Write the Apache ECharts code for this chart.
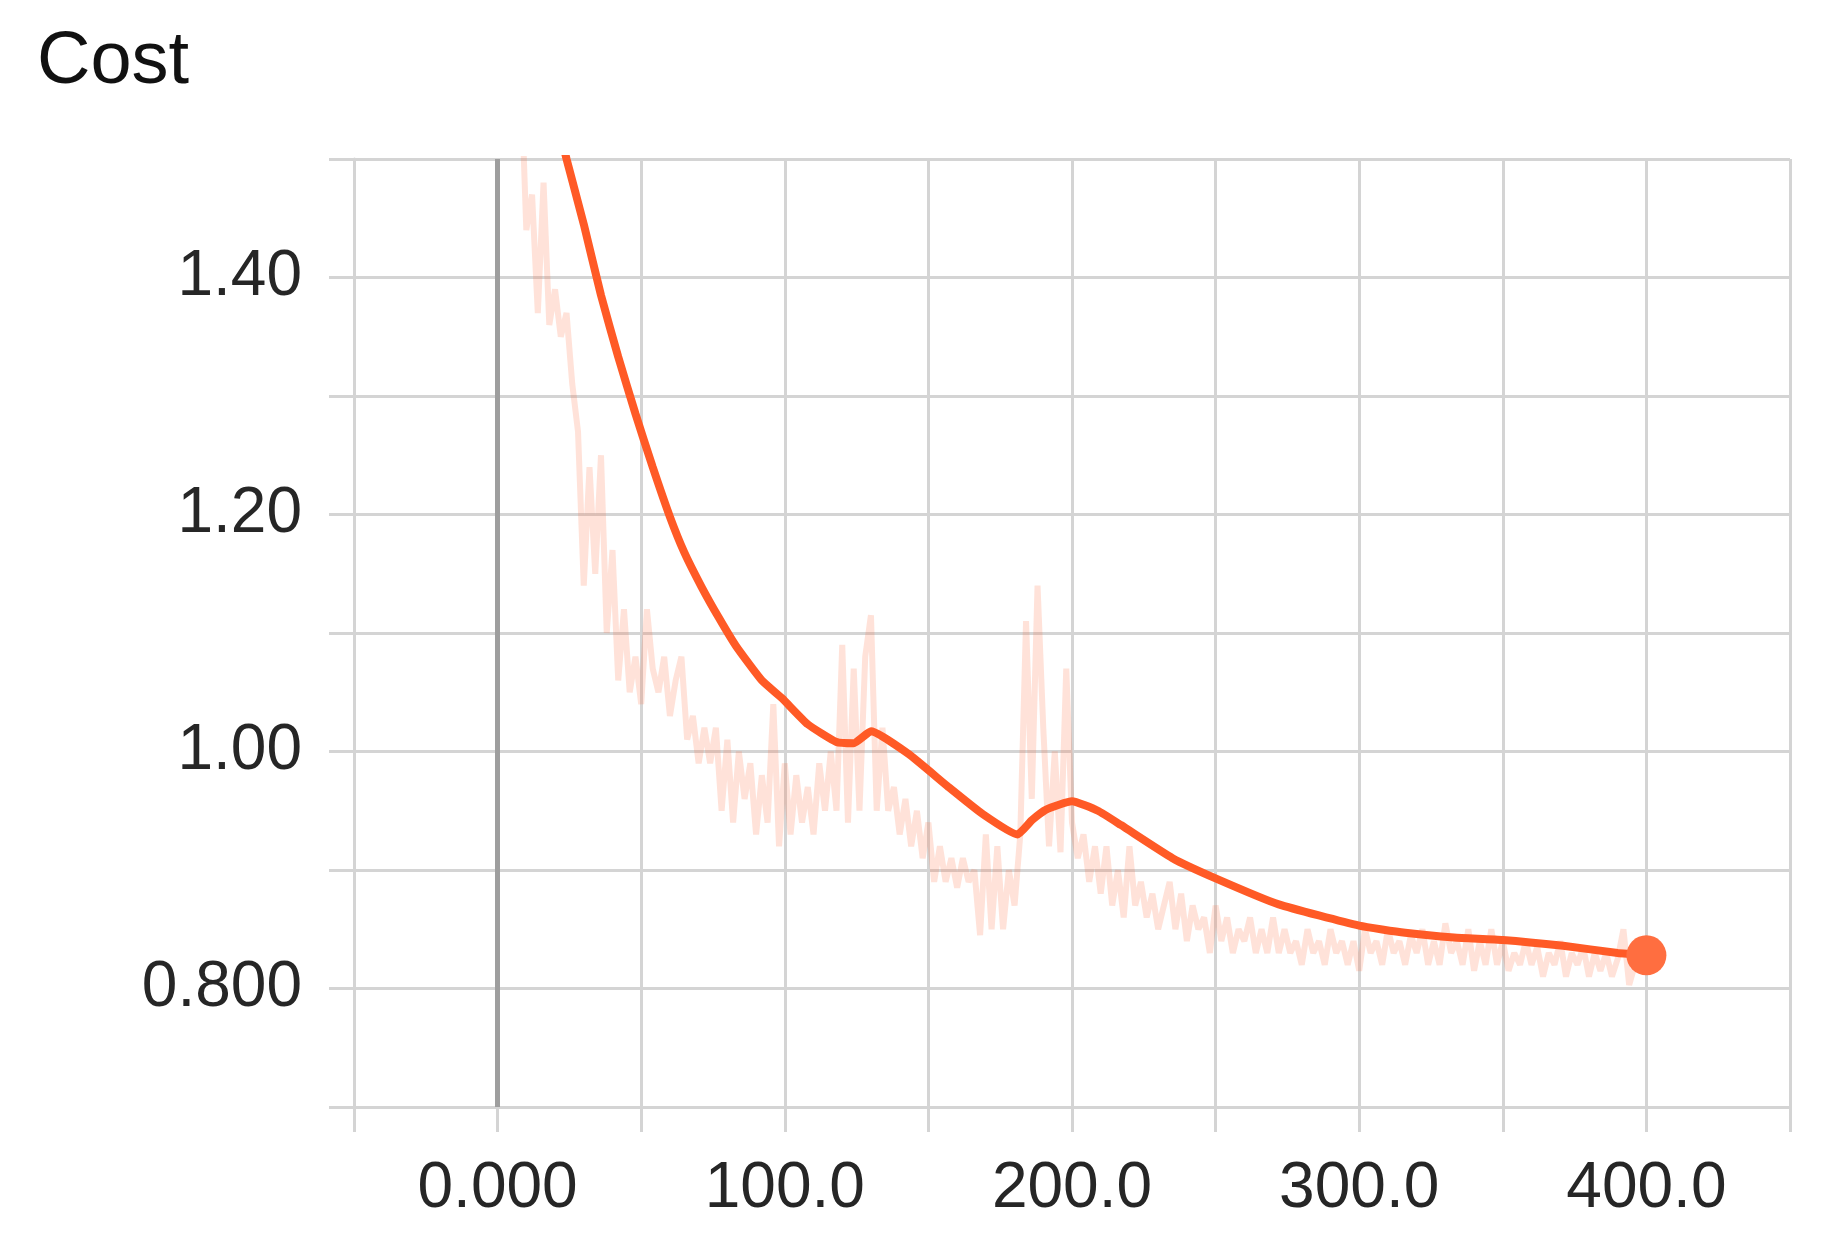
<!DOCTYPE html>
<html>
<head>
<meta charset="utf-8">
<script src="https://cdn.jsdelivr.net/npm/echarts@6/dist/echarts.min.js"></script>
<style>
html,body{margin:0;padding:0;background:#fff;}
#chart{width:1836px;height:1259px;}
</style>
</head>
<body>
<div id="chart"></div>
<script>
// Raw (unsmoothed) cost values, one per logged step
const rawSteps = [
  8,10,12,14,16,18,20,22,24,26,
  28,30,32,34,36,38,40,42,44,46,
  48,50,52,54,56,58,60,62,64,66,
  68,70,72,74,76,78,80,82,84,86,
  88,90,92,94,96,98,100,102,104,106,
  108,110,112,114,116,118,120,122,124,126,
  128,130,132,134,136,138,140,142,144,146,
  148,150,152,154,156,158,160,162,164,166,
  168,170,172,174,176,178,180,182,184,186,
  188,190,192,194,196,198,200,202,204,206,
  208,210,212,214,216,218,220,222,224,226,
  228,230,232,234,236,238,240,242,244,246,
  248,250,252,254,256,258,260,262,264,266,
  268,270,272,274,276,278,280,282,284,286,
  288,290,292,294,296,298,300,302,304,306,
  308,310,312,314,316,318,320,322,324,326,
  328,330,332,334,336,338,340,342,344,346,
  348,350,352,354,356,358,360,362,364,366,
  368,370,372,374,376,378,380,382,384,386,
  388,390,392,394,396,398,400];
const rawCost = [
  1.58,1.44,1.47,1.37,1.48,1.36,1.39,1.35,1.37,1.31,
  1.27,1.14,1.24,1.15,1.25,1.10,1.17,1.06,1.12,1.05,
  1.08,1.04,1.12,1.07,1.05,1.08,1.03,1.06,1.08,1.01,
  1.03,0.99,1.02,0.99,1.02,0.95,1.01,0.94,1.00,0.96,
  0.99,0.93,0.98,0.94,1.04,0.92,0.99,0.93,0.98,0.94,
  0.97,0.93,0.99,0.95,1.00,0.95,1.09,0.94,1.07,0.95,
  1.08,1.115,0.95,1.02,0.95,0.97,0.93,0.96,0.92,0.95,
  0.91,0.94,0.89,0.92,0.89,0.91,0.885,0.91,0.89,0.90,
  0.845,0.93,0.85,0.92,0.85,0.90,0.87,0.93,1.11,0.96,
  1.14,1.02,0.92,1.00,0.915,1.07,0.94,0.91,0.93,0.89,
  0.92,0.88,0.92,0.87,0.90,0.86,0.92,0.87,0.89,0.86,
  0.88,0.85,0.87,0.89,0.85,0.88,0.84,0.87,0.85,0.86,
  0.83,0.87,0.84,0.86,0.83,0.85,0.84,0.86,0.83,0.85,
  0.83,0.86,0.83,0.85,0.83,0.84,0.82,0.85,0.83,0.84,
  0.82,0.85,0.83,0.84,0.82,0.84,0.815,0.85,0.83,0.84,
  0.82,0.85,0.83,0.84,0.82,0.845,0.83,0.85,0.82,0.84,
  0.82,0.855,0.83,0.84,0.82,0.85,0.815,0.84,0.82,0.85,
  0.82,0.84,0.815,0.83,0.82,0.84,0.82,0.835,0.81,0.83,
  0.82,0.84,0.81,0.83,0.82,0.835,0.81,0.83,0.815,0.83,
  0.81,0.825,0.85,0.803,0.82,0.815,0.82];
// Smoothed cost values
const smoothSteps = [16,24,30,36,42,48,54,60,65,71,77,83,92,99,108,118,124,130,143,157,169,181,186,191,200,209,217,235,250,272,300,316,333,350,371,390,400];
const smoothCost = [1.58,1.50,1.445,1.385,1.333,1.285,1.240,1.198,1.168,1.139,1.113,1.089,1.060,1.045,1.023,1.008,1.007,1.017,0.998,0.970,0.947,0.930,0.942,0.951,0.958,0.950,0.938,0.910,0.893,0.871,0.853,0.847,0.843,0.841,0.836,0.830,0.828];
// Axis tick labels
const xTickLabels = {0:'0.000',100:'100.0',200:'200.0',300:'300.0',400:'400.0'};
const yTickLabels = {8:'0.800',10:'1.00',12:'1.20',14:'1.40'};
const titleText = 'Cost';

const rawData = rawSteps.map((s,i)=>[s,rawCost[i]]);
const smoothData = smoothSteps.map((s,i)=>[s,smoothCost[i]]);
const lastPoint = smoothData[smoothData.length-1];

const gridColor = '#d4d4d4';
const chart = echarts.init(document.getElementById('chart'));
chart.setOption({
  backgroundColor:'#ffffff',
  animation:false,
  title:{text:titleText,left:32,top:21,textStyle:{fontFamily:'Liberation Sans',fontSize:74,fontWeight:'normal',color:'#111'}},
  grid:{left:354,right:46,top:159,bottom:152,containLabel:false},
  xAxis:{
    type:'value',min:-50,max:450,interval:50,
    axisLine:{show:true,onZero:false,lineStyle:{color:gridColor,width:3}},
    axisTick:{show:true,length:25,lineStyle:{color:gridColor,width:3}},
    splitLine:{show:true,lineStyle:{color:gridColor,width:3}},
    axisLabel:{margin:50,fontFamily:'Liberation Sans',fontSize:64,color:'#262626',
      formatter:function(v){const k=Math.round(v);return xTickLabels[k]!==undefined?xTickLabels[k]:'';}}
  },
  yAxis:{
    type:'value',min:0.7,max:1.5,interval:0.1,
    axisLine:{show:true,onZero:false,lineStyle:{color:gridColor,width:3}},
    axisTick:{show:true,length:25,lineStyle:{color:gridColor,width:3}},
    splitLine:{show:true,lineStyle:{color:gridColor,width:3}},
    axisLabel:{margin:52,fontFamily:'Liberation Sans',fontSize:64,color:'#262626',
      formatter:function(v){const k=Math.round(v*10);return yTickLabels[k]!==undefined?yTickLabels[k]:'';}}
  },
  series:[
    {type:'line',data:rawData,showSymbol:false,symbol:'none',clip:true,
     lineStyle:{color:'#ff7043',width:6,opacity:0.2},z:2,
     markLine:{silent:true,symbol:['none','none'],label:{show:false},
       lineStyle:{color:'#9e9e9e',width:5,type:'solid'},data:[{xAxis:0}]}},
    {type:'line',data:smoothData,showSymbol:false,symbol:'none',clip:true,smooth:0.15,
     lineStyle:{color:'#ff5a26',width:8},z:3},
    {type:'scatter',data:[lastPoint],symbolSize:40,itemStyle:{color:'#ff6e40',opacity:1},z:4}
  ]
});
</script>
</body>
</html>
